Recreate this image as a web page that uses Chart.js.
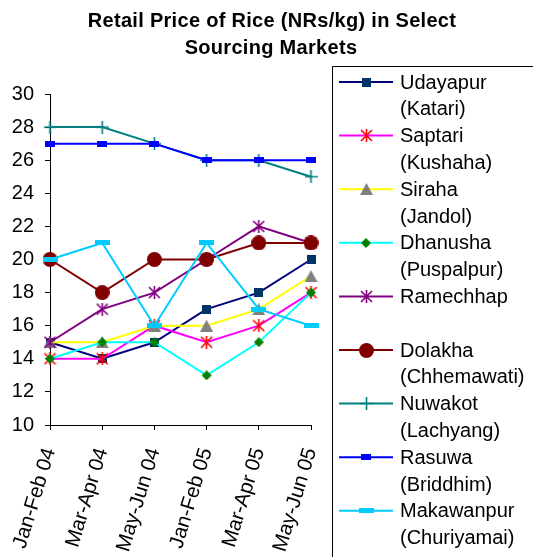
<!DOCTYPE html>
<html>
<head>
<meta charset="utf-8">
<script src="https://cdn.jsdelivr.net/npm/chart.js@4/dist/chart.umd.min.js"></script>
<style>
  body { margin: 0; background: #fff; }
  canvas { display: block; }
</style>
</head>
<body>
<canvas id="riceChart" width="533" height="557"></canvas>
<script>
const periods = ['Jan-Feb 04', 'Mar-Apr 04', 'May-Jun 04', 'Jan-Feb 05', 'Mar-Apr 05', 'May-Jun 05'];
const yTicks = [10, 12, 14, 16, 18, 20, 22, 24, 26, 28, 30];

const udayapur = [15, 14, 15, 17, 18, 20];
const saptari = [14, 14, 16, 15, 16, 18];
const siraha = [15, 15, 16, 16, 17, 19];
const dhanusha = [14, 15, 15, 13, 15, 18];
const ramechhap = [15, 17, 18, 20, 22, 21];
const dolakha = [20, 18, 20, 20, 21, 21];
const nuwakot = [28, 28, 27, 26, 26, 25];
const rasuwa = [27, 27, 27, 26, 26, 26];
const makawanpur = [20, 21, 16, 21, 17, 16];

const legendLabels = [
  ['Udayapur', '(Katari)'],
  ['Saptari', '(Kushaha)'],
  ['Siraha', '(Jandol)'],
  ['Dhanusha', '(Puspalpur)'],
  ['Ramechhap', ''],
  ['Dolakha', '(Chhemawati)'],
  ['Nuwakot', '(Lachyang)'],
  ['Rasuwa', '(Briddhim)'],
  ['Makawanpur', '(Churiyamai)']
];

// little canvases used as point markers (Excel style)
function marker(w, h, draw) {
  const c = document.createElement('canvas');
  c.width = w;
  c.height = h;
  draw(c.getContext('2d'), w, h);
  return c;
}

function asterisk(color, s) {
  return marker(s, s, (g, w, h) => {
    g.strokeStyle = color;
    g.lineWidth = 1.6;
    g.beginPath();
    g.moveTo(1, 1); g.lineTo(w - 1, h - 1);
    g.moveTo(w - 1, 1); g.lineTo(1, h - 1);
    g.moveTo(w / 2, 0); g.lineTo(w / 2, h);
    g.stroke();
  });
}

const mSquare = marker(9, 9, (g, w, h) => { g.fillStyle = '#003366'; g.fillRect(0, 0, w, h); });
const mRedStar = asterisk('#FF0000', 13);
const mTriangle = marker(13, 12, (g, w, h) => {
  g.fillStyle = '#808080';
  g.beginPath(); g.moveTo(w / 2, 0); g.lineTo(w, h); g.lineTo(0, h); g.closePath(); g.fill();
});
const mDiamond = marker(10, 10, (g, w, h) => {
  g.fillStyle = '#008000';
  g.beginPath(); g.moveTo(w / 2, 0); g.lineTo(w, h / 2); g.lineTo(w / 2, h); g.lineTo(0, h / 2); g.closePath(); g.fill();
});
const mPurpleStar = asterisk('#800080', 13);
const mCircle = marker(15, 15, (g, w, h) => {
  g.fillStyle = '#800000';
  g.beginPath(); g.arc(w / 2, h / 2, w / 2, 0, Math.PI * 2); g.fill();
});
const mPlus = marker(13, 13, (g, w, h) => {
  g.strokeStyle = '#008080';
  g.lineWidth = 1.6;
  g.beginPath();
  g.moveTo(0, h / 2); g.lineTo(w, h / 2);
  g.moveTo(w / 2, 0); g.lineTo(w / 2, h);
  g.stroke();
});
const mBlueBar = marker(10, 6, (g, w, h) => { g.fillStyle = '#0000FF'; g.fillRect(0, 0, w, h); });
const mCyanBar = marker(15, 5, (g, w, h) => { g.fillStyle = '#00CCFF'; g.fillRect(0, 0, w, h); });

const seriesValues = [udayapur, saptari, siraha, dhanusha, ramechhap, dolakha, nuwakot, rasuwa, makawanpur];
const lineColors = ['#000080', '#FF00FF', '#FFFF00', '#00FFFF', '#800080', '#800000', '#008080', '#0000FF', '#00CCFF'];
const markers = [mSquare, mRedStar, mTriangle, mDiamond, mPurpleStar, mCircle, mPlus, mBlueBar, mCyanBar];

const datasets = seriesValues.map((vals, i) => ({
  label: legendLabels[i][0],
  data: vals,
  borderColor: lineColors[i],
  backgroundColor: lineColors[i],
  borderWidth: 2,
  pointStyle: markers[i],
  pointRadius: 6,
  tension: 0,
  fill: false,
  clip: false,
  order: seriesValues.length - i
}));

const FONT = 'Liberation Sans, Arial, Helvetica, sans-serif';

const extrasPlugin = {
  id: 'extras',
  afterDraw(chart) {
    const ctx = chart.ctx;
    ctx.save();
    // title
    ctx.fillStyle = '#000';
    ctx.font = 'bold 20px ' + FONT;
    ctx.textAlign = 'center';
    ctx.textBaseline = 'middle';
    ctx.letterSpacing = '0.3px';
    ctx.fillText('Retail Price of Rice (NRs/kg) in Select', 272, 21);
    ctx.fillText('Sourcing Markets', 271, 48);
    ctx.letterSpacing = '0px';

    // legend box (runs off the right and bottom edges)
    ctx.strokeStyle = '#000';
    ctx.lineWidth = 1;
    ctx.beginPath();
    ctx.moveTo(332.5, 557);
    ctx.lineTo(332.5, 66.5);
    ctx.lineTo(533, 66.5);
    ctx.stroke();

    ctx.font = '20px ' + FONT;
    ctx.textAlign = 'left';
    const pitch = 26.8;
    legendLabels.forEach((lab, i) => {
      const y = 82 + i * 2 * pitch;
      ctx.strokeStyle = lineColors[i];
      ctx.lineWidth = 2;
      ctx.beginPath();
      ctx.moveTo(339, y);
      ctx.lineTo(393, y);
      ctx.stroke();
      const m = markers[i];
      ctx.drawImage(m, Math.round(366 - m.width / 2), Math.round(y - m.height / 2));
      ctx.fillStyle = '#000';
      ctx.fillText(lab[0], 400, y + 1);
      if (lab[1]) ctx.fillText(lab[1], 400, y + pitch + 1);
    });
    ctx.restore();
  }
};

new Chart(document.getElementById('riceChart').getContext('2d'), {
  type: 'line',
  data: { labels: periods, datasets: datasets },
  options: {
    responsive: false,
    animation: false,
    devicePixelRatio: 1,
    layout: { padding: { left: 0, right: 222, top: 94, bottom: 0 } },
    plugins: {
      legend: { display: false },
      title: { display: false },
      tooltip: { enabled: false }
    },
    scales: {
      x: {
        offset: false,
        afterFit(scale) { scale.height = 132; },
        grid: { display: true, drawOnChartArea: false, drawTicks: true, tickLength: 5, color: '#000' },
        border: { display: true, color: '#000', width: 1 },
        ticks: {
          autoSkip: false,
          minRotation: 73,
          maxRotation: 73,
          padding: 15,
          color: '#000',
          font: { family: FONT, size: 20.5 }
        }
      },
      y: {
        min: 10,
        max: 30,
        afterFit(scale) { scale.width = 50; },
        afterBuildTicks(scale) { scale.ticks = yTicks.map(v => ({ value: v })); },
        grid: { display: true, drawOnChartArea: false, drawTicks: true, tickLength: 5, color: '#000' },
        border: { display: true, color: '#000', width: 1 },
        ticks: {
          padding: 11,
          color: '#000',
          font: { family: FONT, size: 20 }
        }
      }
    }
  },
  plugins: [extrasPlugin]
});
</script>
</body>
</html>
